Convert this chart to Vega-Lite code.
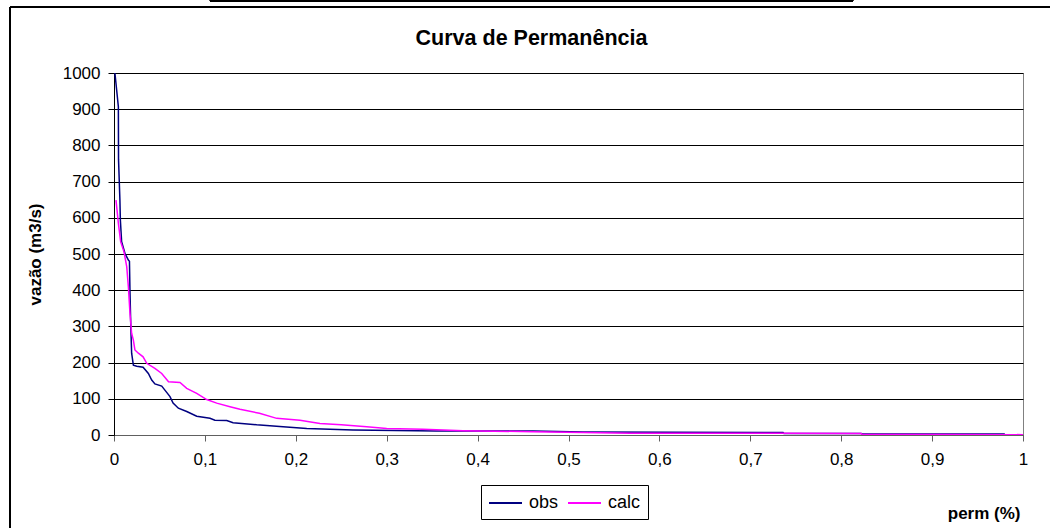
{
  "$schema": "https://vega.github.io/schema/vega-lite/v6.json",
  "width": 909,
  "height": 362,
  "autosize": {"type": "none"},
  "padding": {"left": 114, "top": 73, "right": 27, "bottom": 93},
  "background": "white",
  "config": {
    "font": "Liberation Sans",
    "view": {"stroke": "#808080", "strokeWidth": 1},
    "axis": {
      "labelFont": "Liberation Sans",
      "labelFontSize": 17,
      "labelColor": "black",
      "titleFont": "Liberation Sans",
      "titleFontSize": 17,
      "titleFontWeight": "bold",
      "titleColor": "black",
      "tickSize": 6
    },
    "axisX": {
      "grid": false,
      "domainColor": "#606060",
      "tickColor": "#606060",
      "labelPadding": 10,
      "labelFlush": false
    },
    "axisY": {
      "grid": true,
      "gridColor": "black",
      "gridOpacity": 1,
      "gridWidth": 1,
      "domainColor": "black",
      "tickColor": "black",
      "labelPadding": 8,
      "titlePadding": 18
    },
    "legend": {
      "labelFont": "Liberation Sans",
      "labelFontSize": 18,
      "labelColor": "black"
    }
  },
  "title": {
    "text": "Curva de Permanência",
    "font": "Liberation Sans",
    "fontSize": 21.5,
    "fontWeight": "bold",
    "color": "black",
    "anchor": "middle",
    "frame": "group",
    "baseline": "alphabetic",
    "dx": -37,
    "offset": -67
  },
  "data": {
    "values": [
      {"p": 0.001, "q": 1000, "s": "obs"},
      {"p": 0.0048, "q": 907, "s": "obs"},
      {"p": 0.005, "q": 760, "s": "obs"},
      {"p": 0.0065, "q": 649, "s": "obs"},
      {"p": 0.007, "q": 594, "s": "obs"},
      {"p": 0.0084, "q": 534, "s": "obs"},
      {"p": 0.012, "q": 502, "s": "obs"},
      {"p": 0.0158, "q": 483, "s": "obs"},
      {"p": 0.017, "q": 480, "s": "obs"},
      {"p": 0.0176, "q": 392, "s": "obs"},
      {"p": 0.0185, "q": 299, "s": "obs"},
      {"p": 0.0194, "q": 226, "s": "obs"},
      {"p": 0.0213, "q": 193, "s": "obs"},
      {"p": 0.025, "q": 190, "s": "obs"},
      {"p": 0.032, "q": 187, "s": "obs"},
      {"p": 0.0378, "q": 170, "s": "obs"},
      {"p": 0.0415, "q": 152, "s": "obs"},
      {"p": 0.045, "q": 141, "s": "obs"},
      {"p": 0.0525, "q": 135, "s": "obs"},
      {"p": 0.056, "q": 124, "s": "obs"},
      {"p": 0.0616, "q": 106, "s": "obs"},
      {"p": 0.065, "q": 88, "s": "obs"},
      {"p": 0.0708, "q": 74, "s": "obs"},
      {"p": 0.08, "q": 65, "s": "obs"},
      {"p": 0.091, "q": 52, "s": "obs"},
      {"p": 0.1056, "q": 46, "s": "obs"},
      {"p": 0.111, "q": 41, "s": "obs"},
      {"p": 0.124, "q": 40, "s": "obs"},
      {"p": 0.131, "q": 34, "s": "obs"},
      {"p": 0.157, "q": 28, "s": "obs"},
      {"p": 0.186, "q": 23, "s": "obs"},
      {"p": 0.212, "q": 18, "s": "obs"},
      {"p": 0.263, "q": 14, "s": "obs"},
      {"p": 0.355, "q": 11, "s": "obs"},
      {"p": 0.461, "q": 11, "s": "obs"},
      {"p": 0.516, "q": 8, "s": "obs"},
      {"p": 0.736, "q": 7, "s": "obs"},
      {"p": 0.737, "q": 4, "s": "obs"},
      {"p": 0.822, "q": 4, "s": "obs"},
      {"p": 0.823, "q": 3, "s": "obs"},
      {"p": 0.98, "q": 3, "s": "obs"},
      {"p": 0.0022, "q": 649, "s": "calc"},
      {"p": 0.0048, "q": 585, "s": "calc"},
      {"p": 0.0073, "q": 534, "s": "calc"},
      {"p": 0.011, "q": 506, "s": "calc"},
      {"p": 0.014, "q": 465, "s": "calc"},
      {"p": 0.0158, "q": 410, "s": "calc"},
      {"p": 0.0176, "q": 336, "s": "calc"},
      {"p": 0.0194, "q": 281, "s": "calc"},
      {"p": 0.0213, "q": 262, "s": "calc"},
      {"p": 0.023, "q": 235, "s": "calc"},
      {"p": 0.0268, "q": 226, "s": "calc"},
      {"p": 0.032, "q": 216, "s": "calc"},
      {"p": 0.036, "q": 198, "s": "calc"},
      {"p": 0.045, "q": 184, "s": "calc"},
      {"p": 0.0525, "q": 170, "s": "calc"},
      {"p": 0.06, "q": 147, "s": "calc"},
      {"p": 0.0726, "q": 145, "s": "calc"},
      {"p": 0.08, "q": 129, "s": "calc"},
      {"p": 0.091, "q": 115, "s": "calc"},
      {"p": 0.102, "q": 98, "s": "calc"},
      {"p": 0.113, "q": 88, "s": "calc"},
      {"p": 0.1276, "q": 78, "s": "calc"},
      {"p": 0.1386, "q": 71, "s": "calc"},
      {"p": 0.16, "q": 60, "s": "calc"},
      {"p": 0.179, "q": 46, "s": "calc"},
      {"p": 0.2046, "q": 41, "s": "calc"},
      {"p": 0.2266, "q": 32, "s": "calc"},
      {"p": 0.25, "q": 28, "s": "calc"},
      {"p": 0.278, "q": 23, "s": "calc"},
      {"p": 0.3, "q": 18, "s": "calc"},
      {"p": 0.34, "q": 16, "s": "calc"},
      {"p": 0.384, "q": 12, "s": "calc"},
      {"p": 0.461, "q": 9, "s": "calc"},
      {"p": 0.516, "q": 7, "s": "calc"},
      {"p": 0.568, "q": 5, "s": "calc"},
      {"p": 0.736, "q": 5, "s": "calc"},
      {"p": 0.822, "q": 4, "s": "calc"},
      {"p": 0.823, "q": 2, "s": "calc"},
      {"p": 1.0, "q": 1, "s": "calc"}
    ]
  },
  "layer": [
    {
      "mark": {"type": "line", "strokeWidth": 1.5, "clip": true},
      "encoding": {
        "x": {
          "field": "p",
          "type": "quantitative",
          "scale": {"domain": [0, 1], "nice": false, "zero": false},
          "axis": {
            "values": [0, 0.1, 0.2, 0.3, 0.4, 0.5, 0.6, 0.7, 0.8, 0.9, 1],
            "tickCount": 30,
            "labelExpr": "replace(format(datum.value, '.1~f'), '.', ',')",
            "title": "perm (%)",
            "titleAnchor": "end",
            "titleAlign": "right",
            "titleBaseline": "alphabetic",
            "titleX": 906,
            "titleY": 83
          }
        },
        "y": {
          "field": "q",
          "type": "quantitative",
          "scale": {"domain": [0, 1000], "nice": false},
          "axis": {
            "values": [0, 100, 200, 300, 400, 500, 600, 700, 800, 900, 1000],
            "tickCount": 30,
            "format": "d",
            "labelOverlap": false,
            "title": "vazão (m3/s)"
          }
        },
        "color": {
          "field": "s",
          "type": "nominal",
          "scale": {"domain": ["obs", "calc"], "range": ["#000080", "#FF00FF"]},
          "legend": {
            "title": null,
            "orient": "none",
            "legendX": 367,
            "legendY": 412,
            "direction": "horizontal",
            "strokeColor": "black",
            "fillColor": "white",
            "padding": 7,
            "symbolType": "M-1,0H2.3",
            "symbolSize": 400,
            "symbolStrokeWidth": 2,
            "labelOffset": 19,
            "columnPadding": 5
          }
        }
      }
    },
    {
      "mark": {"type": "rect", "fill": null, "stroke": "black", "strokeWidth": 1, "clip": false},
      "encoding": {
        "x": {
          "datum": -0.1144,
          "axis": {
            "values": [0, 0.1, 0.2, 0.3, 0.4, 0.5, 0.6, 0.7, 0.8, 0.9, 1],
            "tickCount": 30,
            "labelExpr": "replace(format(datum.value, '.1~f'), '.', ',')",
            "title": "perm (%)",
            "titleAnchor": "end",
            "titleAlign": "right",
            "titleBaseline": "alphabetic",
            "titleX": 906,
            "titleY": 83
          }
        },
        "x2": {"datum": 1.032},
        "y": {
          "datum": 1182,
          "axis": {
            "values": [0, 100, 200, 300, 400, 500, 600, 700, 800, 900, 1000],
            "tickCount": 30,
            "format": "d",
            "labelOverlap": false,
            "title": "vazão (m3/s)"
          }
        },
        "y2": {"datum": -345}
      }
    },
    {
      "mark": {"type": "rule", "stroke": "black", "strokeWidth": 2, "clip": false},
      "encoding": {
        "x": {"datum": 0.1056},
        "x2": {"datum": 0.813},
        "y": {"datum": 1200}
      }
    }
  ]
}
